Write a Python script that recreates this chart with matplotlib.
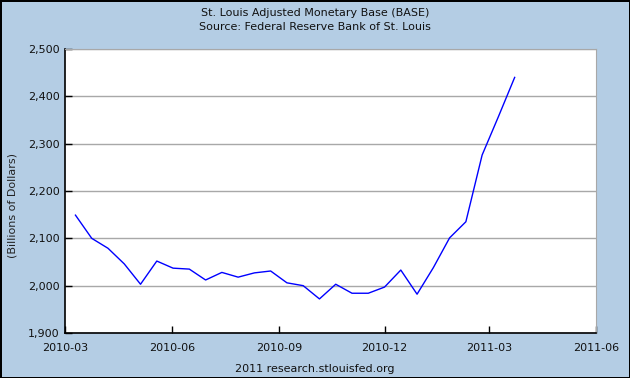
import matplotlib
matplotlib.use("Agg")
import matplotlib.pyplot as plt
import matplotlib.ticker as mticker
import numpy as np

# biweekly observations, billions of dollars
dates = np.array([
    "2010-03-10", "2010-03-24", "2010-04-07", "2010-04-21", "2010-05-05",
    "2010-05-19", "2010-06-02", "2010-06-16", "2010-06-30", "2010-07-14",
    "2010-07-28", "2010-08-11", "2010-08-25", "2010-09-08", "2010-09-22",
    "2010-10-06", "2010-10-20", "2010-11-03", "2010-11-17", "2010-12-01",
    "2010-12-15", "2010-12-29", "2011-01-12", "2011-01-26", "2011-02-09",
    "2011-02-23", "2011-03-09", "2011-03-23",
], dtype="datetime64[D]")
base = [2149, 2100, 2079, 2046, 2003, 2052, 2037, 2035, 2012, 2028,
        2018, 2027, 2031, 2006, 2000, 1972, 2003, 1984, 1984, 1997,
        2033, 1982, 2038, 2101, 2135, 2276, 2357, 2440]

x_ticks = np.array(["2010-03-01", "2010-06-01", "2010-09-01", "2010-12-01",
                    "2011-03-01", "2011-06-01"], dtype="datetime64[D]")
x_labels = ["2010-03", "2010-06", "2010-09", "2010-12", "2011-03", "2011-06"]
y_ticks = [1900, 2000, 2100, 2200, 2300, 2400, 2500]

bg = "#b4cde4"
plt.rcParams["font.family"] = "DejaVu Sans"
plt.rcParams["font.size"] = 8

fig = plt.figure(figsize=(6.3, 3.78), dpi=100, facecolor=bg,
                 edgecolor="black", linewidth=2)
ax = fig.add_axes([65 / 630, 45 / 378, 531 / 630, 284 / 378])
ax.set_facecolor("white")

ax.plot(dates, base, color="#0000ff", lw=1)

ax.set_xlim(x_ticks[0], x_ticks[-1])
ax.set_ylim(1900, 2500)
ax.set_xticks(x_ticks)
ax.set_xticklabels(x_labels)
ax.set_yticks(y_ticks)
ax.yaxis.set_major_formatter(mticker.FuncFormatter(lambda v, p: f"{v:,.0f}"))
ax.tick_params(direction="in", length=5, width=1, color="black",
               labelsize=8, labelcolor="#111111")
ax.tick_params(axis="x", pad=7)
ax.tick_params(axis="y", pad=4)

ax.grid(axis="y", color="#a8a8a8", lw=1)
ax.set_axisbelow(True)
for side in ["top", "right"]:
    ax.spines[side].set_color("#a8a8a8")
for side in ["left", "bottom"]:
    ax.spines[side].set_color("black")
    ax.spines[side].set_linewidth(1.2)

fig.text(13 / 630, 1 - 205 / 378, "(Billions of Dollars)", rotation=90,
         ha="center", va="center", fontsize=8, color="#222222")

fig.text(0.5, 1 - 13 / 378, "St. Louis Adjusted Monetary Base (BASE)",
         ha="center", va="center", fontsize=8, color="#111111")
fig.text(0.5, 1 - 27 / 378, "Source: Federal Reserve Bank of St. Louis",
         ha="center", va="center", fontsize=8, color="#111111")
fig.text(0.5, 1 - 369 / 378, "2011 research.stlouisfed.org",
         ha="center", va="center", fontsize=8, color="#111111")

fig.savefig("out.png", dpi=100, facecolor=bg, edgecolor="black")
